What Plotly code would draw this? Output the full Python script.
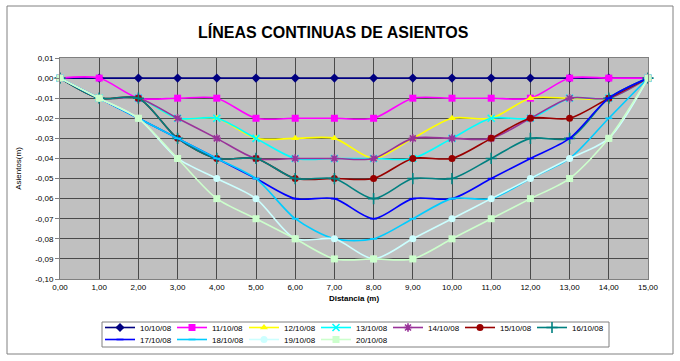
import plotly.graph_objects as go

distancia = [0, 1, 2, 3, 4, 5, 6, 7, 8, 9, 10, 11, 12, 13, 14, 15]

s_10_10_08 = [0, 0, 0, 0, 0, 0, 0, 0, 0, 0, 0, 0, 0, 0, 0, 0]
s_11_10_08 = [0, 0, -0.01, -0.01, -0.01, -0.02, -0.02, -0.02, -0.02, -0.01, -0.01, -0.01, -0.01, 0, 0, 0]
s_12_10_08 = [0, -0.01, -0.01, -0.02, -0.02, -0.03, -0.03, -0.03, -0.04, -0.03, -0.02, -0.02, -0.01, -0.01, -0.01, 0]
s_13_10_08 = [0, -0.01, -0.01, -0.02, -0.02, -0.03, -0.04, -0.04, -0.04, -0.04, -0.03, -0.02, -0.02, -0.01, -0.01, 0]
s_14_10_08 = [0, -0.01, -0.01, -0.02, -0.03, -0.04, -0.04, -0.04, -0.04, -0.03, -0.03, -0.03, -0.02, -0.01, -0.01, 0]
s_15_10_08 = [0, -0.01, -0.01, -0.03, -0.04, -0.04, -0.05, -0.05, -0.05, -0.04, -0.04, -0.03, -0.02, -0.02, -0.01, 0]
s_16_10_08 = [0, -0.01, -0.01, -0.03, -0.04, -0.04, -0.05, -0.05, -0.06, -0.05, -0.05, -0.04, -0.03, -0.03, -0.01, 0]
s_17_10_08 = [0, -0.01, -0.02, -0.03, -0.04, -0.05, -0.06, -0.06, -0.07, -0.06, -0.06, -0.05, -0.04, -0.03, -0.01, 0]
s_18_10_08 = [0, -0.01, -0.02, -0.03, -0.04, -0.05, -0.07, -0.08, -0.08, -0.07, -0.06, -0.06, -0.05, -0.04, -0.02, 0]
s_19_10_08 = [0, -0.01, -0.02, -0.04, -0.05, -0.06, -0.08, -0.08, -0.09, -0.08, -0.07, -0.06, -0.05, -0.04, -0.03, 0]
s_20_10_08 = [0, -0.01, -0.02, -0.04, -0.06, -0.07, -0.08, -0.09, -0.09, -0.09, -0.08, -0.07, -0.06, -0.05, -0.03, 0]

series_names = ["10/10/08", "11/10/08", "12/10/08", "13/10/08", "14/10/08", "15/10/08",
                "16/10/08", "17/10/08", "18/10/08", "19/10/08", "20/10/08"]
series_values = [s_10_10_08, s_11_10_08, s_12_10_08, s_13_10_08, s_14_10_08, s_15_10_08,
                 s_16_10_08, s_17_10_08, s_18_10_08, s_19_10_08, s_20_10_08]

x_ticks = list(range(0, 16))
x_tick_text = ["%d,00" % v for v in x_ticks]
y_ticks = [0.01, 0.0, -0.01, -0.02, -0.03, -0.04, -0.05, -0.06, -0.07, -0.08, -0.09, -0.10]
y_tick_text = ["0,01", "0,00", "-0,01", "-0,02", "-0,03", "-0,04", "-0,05", "-0,06",
               "-0,07", "-0,08", "-0,09", "-0,10"]

colors = ["#000080", "#FF00FF", "#FFFF00", "#00FFFF", "#993399", "#990000",
          "#008080", "#0000FF", "#00CCFF", "#CCFFFF", "#CCFFCC"]
symbols = ["diamond", "square", "triangle-up", "x-thin-open", "asterisk-open", "circle",
           "cross-thin-open", "line-ew-open", "line-ew-open", "circle", "square"]
sizes = [7, 7, 7, 7, 7, 7, 8, 5, 5, 7, 7]

FONT = "Arial, Liberation Sans, sans-serif"

# plot area in pixels: x 60..648, y 58..279
def py(pix):
    return (279 - pix) / 221.0

def px(pix):
    return (pix - 60) / 588.0

fig = go.Figure()
for i, (name, vals, col, sym, sz) in enumerate(zip(series_names, series_values, colors, symbols, sizes)):
    open_sym = sym.endswith("-open")
    fig.add_trace(go.Scatter(
        x=distancia, y=vals, name=name, mode="lines+markers",
        line=dict(color=col, width=1.6, shape="spline", smoothing=0.8),
        marker=dict(symbol=sym, size=sz, color=col,
                    line=dict(color=col, width=1.6 if open_sym else 0)),
        cliponaxis=False,
        legend="legend" if i < 7 else "legend2",
    ))

leg_common = dict(orientation="h", xanchor="left", yanchor="top",
                  entrywidth=27, entrywidthmode="pixels", itemwidth=30,
                  bgcolor="rgba(0,0,0,0)", borderwidth=0,
                  font=dict(size=8, family=FONT), tracegroupgap=0, traceorder="normal")

fig.update_layout(
    width=680, height=361,
    margin=dict(l=60, r=32, t=58, b=82, autoexpand=False),
    paper_bgcolor="white",
    plot_bgcolor="#C0C0C0",
    font=dict(family=FONT, size=8, color="black"),
    title=dict(text="<b>LÍNEAS CONTINUAS DE ASIENTOS</b>",
               font=dict(family="Liberation Sans, Arial, sans-serif", size=16, color="black"),
               x=0.49, xanchor="center", y=0.91, yanchor="middle"),
    xaxis=dict(range=[0, 15], tickvals=x_ticks, ticktext=x_tick_text,
               showgrid=True, gridcolor="#4a4a4a", gridwidth=1.4,
               showline=True, linecolor="#808080", linewidth=1, mirror=True,
               ticks="", zeroline=False,
               tickfont=dict(size=8),
               title=dict(text="<b>Distancia (m)</b>", font=dict(size=8), standoff=4)),
    yaxis=dict(range=[-0.10, 0.01], tickvals=y_ticks, ticktext=y_tick_text,
               showgrid=True, gridcolor="#4a4a4a", gridwidth=1.4,
               showline=True, linecolor="#808080", linewidth=1, mirror=True,
               ticks="outside", ticklen=4, tickcolor="#808080", zeroline=False,
               tickfont=dict(size=8),
               title=dict(text="Asientos(m)", font=dict(size=8), standoff=12)),
    legend=dict(x=px(100), y=py(313), **leg_common),
    legend2=dict(x=px(100), y=py(325), **leg_common),
    showlegend=True,
)

# outer chart border
fig.add_shape(type="rect", xref="paper", yref="paper",
              x0=px(7), x1=px(673), y0=py(354), y1=py(6),
              line=dict(color="#808080", width=1), fillcolor="rgba(0,0,0,0)", layer="below")
# legend box
fig.add_shape(type="rect", xref="paper", yref="paper",
              x0=px(102), x1=px(609), y0=py(347), y1=py(322),
              line=dict(color="#808080", width=1), fillcolor="white", layer="below")

fig.write_html("out.html", config={"displayModeBar": False},
               post_script="document.body.style.margin='0px';")
